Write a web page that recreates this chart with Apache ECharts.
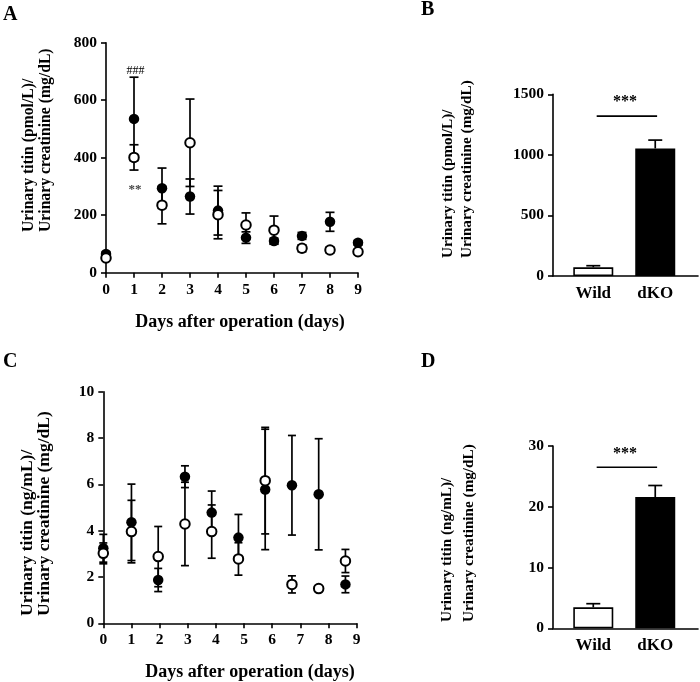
<!DOCTYPE html>
<html><head><meta charset="utf-8">
<script src="https://cdn.jsdelivr.net/npm/echarts@6/dist/echarts.min.js"></script>
<style>html,body{margin:0;padding:0;background:#fff}#c{width:700px;height:682px}</style>
</head><body><div id="c"></div>
<script>
// ---- Panel A data (urinary titin pmol/L / creatinine) ----
const daysA = [0, 1, 2, 3, 4, 5, 6, 7, 8, 9];
const dkoA = [65, 535, 294, 265, 216, 122, 110, 128, 177, 104];
const dkoAErr = [8, 145, 70, 61, 85, 20, 10, 12, 33, 8];
const wildA = [51, 401, 235, 452, 202, 166, 148, 85, 79, 73];
const wildAErr = [6, 44, 65, 152, 84, 42, 49, 12, 10, 8];
const yTicksA = [0, 200, 400, 600, 800];
const xTicksA = [0, 1, 2, 3, 4, 5, 6, 7, 8, 9];

// ---- Panel C data (urinary titin ng/mL / creatinine) ----
const daysC = [0, 1, 1.95, 2.9, 3.85, 4.8, 5.75, 6.7, 7.65, 8.6];
const dkoC = [3.24, 4.36, 1.87, 6.33, 4.78, 3.70, 5.78, 5.96, 5.57, 1.68];
const dkoCErr = [0.6, 1.65, 0.5, 0.47, 0.93, 1.0, 2.6, 2.15, 2.4, 0.36];
const wildC = [3.02, 3.96, 2.88, 4.29, 3.96, 2.78, 6.16, 1.68, 1.50, 2.69];
const wildCErr = [0.45, 1.35, 1.3, 1.8, 1.15, 0.7, 2.3, 0.37, 0.05, 0.5];
const yTicksC = [0, 2, 4, 6, 8, 10];
const xTicksC = [0, 1, 2, 3, 4, 5, 6, 7, 8, 9];

// ---- Panels B and D (bar charts) ----
const groups = ['Wild', 'dKO'];
const barB = [72, 1053];
const barBErr = [13, 69];
const yTicksB = [0, 500, 1000, 1500];
const barD = [3.45, 21.6];
const barDErr = [0.6, 1.9];
const yTicksD = [0, 10, 20, 30];
const sigB = 1320;
const sigD = 26.5;

const FONT = '"Liberation Serif", "Times New Roman", serif';
const BLK = '#000';

const chart = echarts.init(document.getElementById('c'), null, {renderer: 'canvas'});

function yAx(idx, ticks) {
  return {
    type: 'value', gridIndex: idx, min: ticks[0], max: ticks[ticks.length - 1],
    interval: ticks[1] - ticks[0],
    axisLine: {show: true, onZero: false, lineStyle: {color: BLK, width: 1.6}},
    axisTick: {show: true, inside: false, length: 5, lineStyle: {color: BLK, width: 1.6}},
    splitLine: {show: false},
    axisLabel: {color: BLK, fontFamily: FONT, fontWeight: 'bold', fontSize: 15.5, margin: 9,
      formatter: v => String(v)}
  };
}
function xAxLine(idx, ticks) {
  return {
    type: 'value', gridIndex: idx, min: ticks[0], max: ticks[ticks.length - 1],
    interval: ticks[1] - ticks[0],
    axisLine: {show: true, onZero: false, lineStyle: {color: BLK, width: 1.6}},
    axisTick: {show: true, inside: false, length: 5, lineStyle: {color: BLK, width: 1.6}},
    splitLine: {show: false},
    axisLabel: {color: BLK, fontFamily: FONT, fontWeight: 'bold', fontSize: 15.5, margin: 9,
      formatter: v => String(v)}
  };
}
function xAxBar(idx) {
  return {
    type: 'value', gridIndex: idx, min: -0.65, max: 1.69,
    axisLine: {show: true, onZero: false, lineStyle: {color: BLK, width: 1.6}},
    axisTick: {show: false},
    splitLine: {show: false},
    axisLabel: {color: BLK, fontFamily: FONT, fontWeight: 'bold', fontSize: 17, margin: 9,
      customValues: [0, 1], formatter: v => groups[Math.round(v)] || ''}
  };
}

function errRender(capHalf, oneSided) {
  return function (params, api) {
    const x = api.value(0), y = api.value(1), e = api.value(2);
    const top = api.coord([x, y + e]);
    const bot = oneSided ? api.coord([x, y]) : api.coord([x, y - e]);
    const st = {stroke: BLK, lineWidth: 1.7};
    const ch = [
      {type: 'line', shape: {x1: top[0], y1: top[1], x2: bot[0], y2: bot[1]}, style: st},
      {type: 'line', shape: {x1: top[0] - capHalf, y1: top[1], x2: top[0] + capHalf, y2: top[1]}, style: st}
    ];
    if (!oneSided) ch.push({type: 'line', shape: {x1: bot[0] - capHalf, y1: bot[1], x2: bot[0] + capHalf, y2: bot[1]}, style: st});
    return {type: 'group', children: ch};
  };
}

function errSeries(idx, xs, ys, es, capHalf, oneSided) {
  return {
    type: 'custom', xAxisIndex: idx, yAxisIndex: idx, clip: false, z: 1,
    renderItem: errRender(capHalf, oneSided),
    data: xs.map((x, i) => [x, ys[i], es[i]])
  };
}
function dotSeries(idx, xs, ys, filled) {
  return {
    type: 'scatter', xAxisIndex: idx, yAxisIndex: idx, symbol: 'circle', symbolSize: filled ? 10.5 : 9.5,
    z: filled ? 2 : 3, clip: false,
    itemStyle: {color: filled ? BLK : '#fff', borderColor: BLK, borderWidth: filled ? 0 : 2, opacity: 1},
    data: xs.map((x, i) => [x, ys[i]])
  };
}
function barSeries(idx, vals) {
  return {
    type: 'bar', xAxisIndex: idx, yAxisIndex: idx, barWidth: 40, z: 2,
    data: vals.map((v, i) => ({value: [i, v], itemStyle: {color: i === 0 ? '#fff' : BLK, borderColor: BLK, borderWidth: 1.6}}))
  };
}
function sigSeries(idx, yv) {
  return {
    type: 'line', xAxisIndex: idx, yAxisIndex: idx, symbol: 'none', silent: true, z: 2,
    lineStyle: {color: BLK, width: 1.6},
    data: [[0.055, yv], [1.03, yv]]
  };
}

function txt(x, y, text, size, opts) {
  opts = opts || {};
  return {
    type: 'text', x: x, y: y, rotation: opts.rot || 0, z: 10,
    style: {text: text, fontFamily: FONT, fontWeight: opts.weight || 'bold', fontSize: size,
      fill: opts.fill || BLK, textAlign: opts.align || 'center', textVerticalAlign: opts.va || 'middle'}
  };
}
const R = Math.PI / 2;

chart.setOption({
  animation: false,
  backgroundColor: '#fff',
  grid: [
    {left: 106, top: 42.7, width: 252, height: 230},
    {left: 553, top: 94.3, width: 145, height: 181.7},
    {left: 103.3, top: 391.7, width: 253.4, height: 231.6},
    {left: 553, top: 446, width: 145, height: 182.3}
  ],
  xAxis: [xAxLine(0, xTicksA), xAxBar(1), xAxLine(2, xTicksC), xAxBar(3)],
  yAxis: [yAx(0, yTicksA), yAx(1, yTicksB), yAx(2, yTicksC), yAx(3, yTicksD)],
  series: [
    errSeries(0, daysA, dkoA, dkoAErr, 4.5, false),
    errSeries(0, daysA, wildA, wildAErr, 4.5, false),
    dotSeries(0, daysA, dkoA, true),
    dotSeries(0, daysA, wildA, false),

    barSeries(1, barB),
    errSeries(1, [0, 1], barB, barBErr, 7, true),
    sigSeries(1, sigB),

    errSeries(2, daysC, dkoC, dkoCErr, 4, false),
    errSeries(2, daysC, wildC, wildCErr, 4, false),
    dotSeries(2, daysC, dkoC, true),
    dotSeries(2, daysC, wildC, false),

    barSeries(3, barD),
    errSeries(3, [0, 1], barD, barDErr, 7, true),
    sigSeries(3, sigD)
  ],
  graphic: [
    txt(3, 15, 'A', 20, {align: 'left'}),
    txt(421, 10, 'B', 20, {align: 'left'}),
    txt(3, 362, 'C', 20, {align: 'left'}),
    txt(421, 362, 'D', 20, {align: 'left'}),

    txt(29, 232, 'Urinary titin (pmol/L)/', 15.7, {align: 'left', rot: R}),
    txt(46, 232, 'Urinary creatinine (mg/dL)', 15.7, {align: 'left', rot: R}),
    txt(448, 258, 'Urinary titin (pmol/L)/', 15.2, {align: 'left', rot: R}),
    txt(467, 258, 'Urinary creatinine (mg/dL)', 15.2, {align: 'left', rot: R}),
    txt(27, 616, 'Urinary titin (ng/mL)/', 17.5, {align: 'left', rot: R}),
    txt(44, 616, 'Urinary creatinine (mg/dL)', 17.5, {align: 'left', rot: R}),
    txt(447, 622, 'Urinary titin (ng/mL)/', 15.2, {align: 'left', rot: R}),
    txt(469, 622, 'Urinary creatinine (mg/dL)', 15.2, {align: 'left', rot: R}),

    txt(240, 322, 'Days after operation (days)', 18),
    txt(250, 672, 'Days after operation (days)', 18),

    txt(135.5, 71, '###', 12, {weight: 'normal'}),
    txt(135, 190, '**', 13, {weight: 'bold', fill: '#444'}),
    txt(625, 102, '***', 16),
    txt(625, 454, '***', 16)
  ]
});
</script></body></html>
